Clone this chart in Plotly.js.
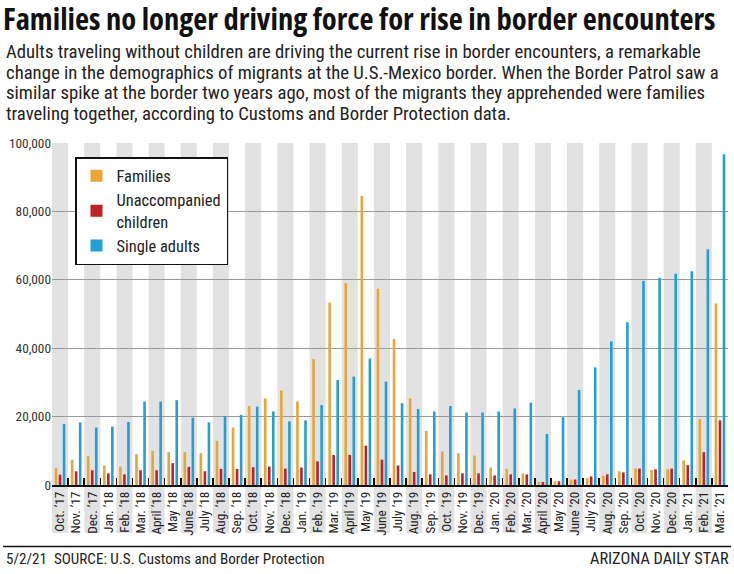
<!DOCTYPE html>
<html>
<head>
<meta charset="utf-8">
<script src="https://cdn.plot.ly/plotly-3.0.1.min.js"></script>
<style>
  html, body { margin: 0; padding: 0; background: #fff; }
  #chart { width: 734px; height: 574px; }
  #chart .gtitle { font-stretch: condensed; }
</style>
</head>
<body>
<div id="chart"></div>
<script>
const months = [
  "Oct. \u201917","Nov. \u201917","Dec. \u201917",
  "Jan. \u201918","Feb. \u201918","Mar. \u201918","April \u201918","May \u201918","June \u201918",
  "July \u201918","Aug. \u201918","Sep. \u201918","Oct. \u201918","Nov. \u201918","Dec. \u201918",
  "Jan. \u201919","Feb. \u201919","Mar. \u201919","April \u201919","May \u201919","June \u201919",
  "July \u201919","Aug. \u201919","Sep. \u201919","Oct. \u201919","Nov. \u201919","Dec. \u201919",
  "Jan. \u201920","Feb. \u201920","Mar. \u201920","April \u201920","May \u201920","June \u201920",
  "July \u201920","Aug. \u201920","Sep. \u201920","Oct. \u201920","Nov. \u201920","Dec. \u201920",
  "Jan. \u201921","Feb. \u201921","Mar. \u201921"
];

const families = [
  5000, 7400, 8400, 5700, 5400, 9000, 10000, 9600, 9600, 9300, 12900, 16800,
  23100, 25300, 27600, 24400, 36800, 53300, 59000, 84500, 57400, 42700, 25300, 15800,
  9800, 9300, 8600, 5100, 4700, 3400, 900, 1100, 1600, 2000, 2700, 4000,
  4800, 4400, 4600, 7200, 19300, 53100
];

const unaccompanied = [
  3000, 4000, 4300, 3400, 3100, 4300, 4300, 6400, 5300, 4000, 4700, 4700,
  5200, 5400, 4800, 5100, 6900, 8800, 8800, 11500, 7400, 5700, 3800, 3100,
  2800, 3400, 3400, 2800, 3100, 3100, 900, 1100, 1600, 2500, 3100, 3700,
  4800, 4600, 4800, 5800, 9600, 18900
];

const singleAdults = [
  17800, 18300, 16800, 17100, 18400, 24400, 24400, 24800, 19700, 18300, 20200, 20500,
  22900, 21500, 18600, 18900, 23400, 30700, 31700, 37000, 30200, 23900, 22200, 21500,
  23100, 21200, 21200, 21500, 22400, 24100, 14900, 19800, 27800, 34400, 42000, 47600,
  59700, 60600, 61800, 62500, 68900, 96700
];

const seriesNames = ["Families", "Unaccompanied<br>children", "Single adults"];

const yTickVals = [0, 20000, 40000, 60000, 80000, 100000];
const yTickText = ["0", "20,000", "40,000", "60,000", "80,000", "100,000"];

const titleText = "Families no longer driving force for rise in border encounters";
const subtitleLines = [
  "Adults traveling without children are driving the current rise in border encounters, a remarkable",
  "change in the demographics of migrants at the U.S.-Mexico border. When the Border Patrol saw a",
  "similar spike at the border two years ago, most of the migrants they apprehended were families",
  "traveling together, according to Customs and Border Protection data."
];
const footerLeft = "5/2/21  SOURCE: U.S. Customs and Border Protection";
const footerRight = "ARIZONA DAILY STAR";

const FONT = "'Roboto Condensed', 'Open Sans', sans-serif";
const TITLE_FONT = "'Open Sans', 'Roboto Condensed', sans-serif";

// fit a font size so that a text reaches a target width (styling only)
const ctx = document.createElement("canvas").getContext("2d");
function fit(text, family, weight, stretch, target) {
  ctx.font = stretch + " " + weight + " 100px " + family;
  const w = ctx.measureText(text).width;
  return Math.round(100 * target / w * 10) / 10;
}
const titleSize = fit(titleText, TITLE_FONT, "bold", "condensed", 713);
const subSize = fit(subtitleLines[1], FONT, "normal", "normal", 713);
const footLeftSize = fit(footerLeft, FONT, "normal", "normal", 318);
const footRightSize = fit(footerRight, FONT, "normal", "normal", 139);
const legendSize = fit("Unaccompanied", FONT, "normal", "normal", 104);
const ytickSize = fit(yTickText[5], FONT, "normal", "normal", 42);
const xtickSize = fit(months[0], FONT, "normal", "normal", 40);

// geometry (pixels) for layout
const W = 734, H = 574;
const M = { l: 52, r: 6, t: 143, b: 89 };
const plotW = W - M.l - M.r, plotH = H - M.t - M.b;
const px = x => (x - M.l) / plotW;
const py = y => (H - M.b - y) / plotH;

const colors = ["#eaa535", "#bd2229", "#239fd6"];
const traces = [families, unaccompanied, singleAdults].map((vals, k) => ({
  type: "bar", x: months, y: vals, name: seriesNames[k],
  marker: { color: colors[k] }, hoverinfo: "skip"
}));

const shapes = [];
months.forEach((m, i) => {
  if (i % 2 === 0) {
    shapes.push({
      type: "rect", xref: "x", yref: "paper",
      x0: i - 0.5, x1: i + 0.5, y0: py(533), y1: 1,
      fillcolor: "#e2e2e2", line: { width: 0 }, layer: "below"
    });
  }
});
shapes.push({
  type: "line", xref: "paper", yref: "paper",
  x0: px(3), x1: px(731), y0: py(546.5), y1: py(546.5),
  line: { color: "#111", width: 1.5 }
});

const annotations = subtitleLines.map((s, i) => ({
  text: s, xref: "paper", yref: "paper",
  x: px(4), y: py(52 + i * 20.7), xanchor: "left", yanchor: "middle",
  showarrow: false, font: { family: FONT, size: subSize, color: "#222" }
}));
annotations.push({
  text: footerLeft, xref: "paper", yref: "paper", x: px(4), y: py(558.5),
  xanchor: "left", yanchor: "middle", showarrow: false,
  font: { family: FONT, size: footLeftSize, color: "#222" }
});
annotations.push({
  text: footerRight, xref: "paper", yref: "paper", x: px(731), y: py(558.5),
  xanchor: "right", yanchor: "middle", showarrow: false,
  font: { family: FONT, size: footRightSize, color: "#222" }
});

const layout = {
  width: W, height: H,
  margin: M,
  paper_bgcolor: "#fff", plot_bgcolor: "rgba(0,0,0,0)",
  font: { family: FONT, color: "#222" },
  title: {
    text: "<b>" + titleText + "</b>",
    x: 3 / W, xanchor: "left", xref: "container",
    y: 1 - 19 / H, yanchor: "middle", yref: "container",
    font: { family: TITLE_FONT, size: titleSize, color: "#111" }
  },
  barmode: "group", bargap: 0.25, bargroupgap: 0.35,
  xaxis: {
    type: "category", tickangle: -90,
    tickfont: { family: FONT, size: xtickSize, color: "#222" },
    showline: true, linecolor: "#111", linewidth: 1.5,
    ticks: "inside", ticklen: 7, tickcolor: "#111", tickwidth: 1.5,
    tickson: "boundaries", showgrid: false, fixedrange: true,
    range: [-0.5, months.length - 0.5]
  },
  yaxis: {
    range: [0, 100000], tickvals: yTickVals, ticktext: yTickText,
    tickfont: { family: FONT, size: ytickSize, color: "#333" },
    showgrid: true, gridcolor: "#9a9a9a", gridwidth: 1,
    zeroline: false, showline: false, ticks: "", fixedrange: true
  },
  legend: {
    x: px(75), y: py(157), xanchor: "left", yanchor: "top",
    bgcolor: "#fff", bordercolor: "#111", borderwidth: 1.5,
    font: { family: FONT, size: legendSize, color: "#222" },
    tracegroupgap: 4, itemclick: false, itemdoubleclick: false
  },
  shapes: shapes,
  annotations: annotations,
  hovermode: false
};

Plotly.newPlot("chart", traces, layout, { displayModeBar: false, staticPlot: true });
</script>
</body>
</html>
